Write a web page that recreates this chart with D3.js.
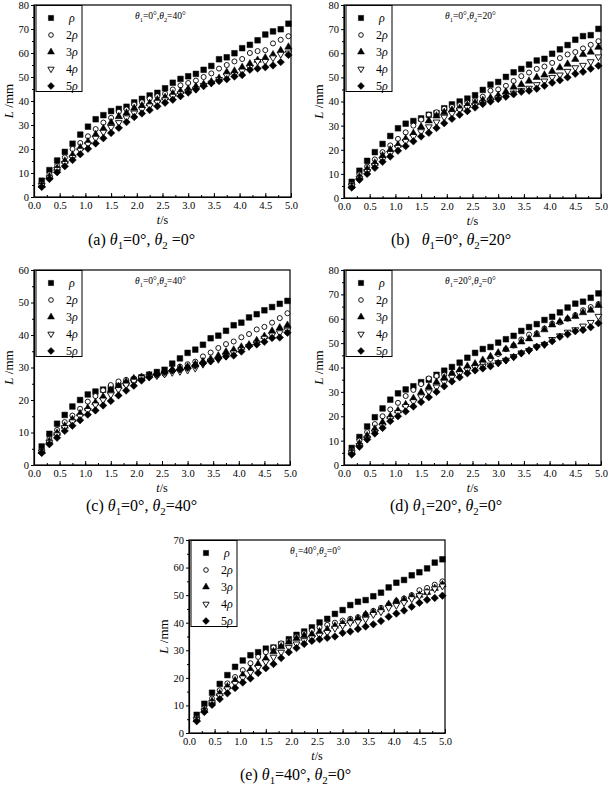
<!DOCTYPE html>
<html><head><meta charset="utf-8">
<script src="https://cdn.jsdelivr.net/npm/d3@7"></script>
<style>body{margin:0;background:#fff}svg{display:block;font-family:"Liberation Serif","Times New Roman",serif}</style>
</head><body><svg id="c" width="608" height="785"></svg>
<script>
// ---- data ----
const tValues = [0.15,0.30,0.45,0.60,0.75,0.90,1.05,1.20,1.35,1.50,1.65,1.80,1.95,2.10,2.25,2.40,2.55,2.70,2.85,3.00,3.15,3.30,3.45,3.60,3.75,3.90,4.05,4.20,4.35,4.50,4.65,4.80,4.95];
const seriesNames = ["ρ","2ρ","3ρ","4ρ","5ρ"];
const xTicks = [0,0.5,1,1.5,2,2.5,3,3.5,4,4.5,5];

const pa1 = [6.8,11.2,15.2,18.8,22.2,26,29.3,32.4,34.1,35.8,36.7,37.6,39.4,40.9,42.3,43.4,45.3,47.6,49.2,50.3,51.3,53,54.6,57.4,58.2,59.9,62,63.4,65.3,67.7,69,69.9,72.2];
const pa2 = [5.5,9.5,13,16.5,20,22.5,25.3,28.3,31,33,35.5,36.5,38.5,39.5,41,42,43,44.8,46.5,47.5,48.5,50,51.5,53.5,55,56.5,57.5,60,60.8,61.2,64,65.5,67];
const pa3 = [5,8.5,12,15,17.5,20.5,23,26,28.5,31,33.5,35,37,38,39,40.5,41.5,43,44,45,46,47,48,49.5,52,52.5,54,55.5,57,58,59.3,61,62.5];
const pa4 = [4.8,8,11.5,14,16.5,19.5,22,24.5,27,29,31,33,35,36.5,38,39.5,40.5,42,43,44,45,46.5,47.5,49,50.5,51,52.5,54,56.5,56.5,58,59.5,60];
const pa5 = [4.2,7.5,10.3,12.8,15.4,17.8,20.1,22.3,24.5,26.7,28.8,31.2,33.3,34.8,36.2,37.8,39.3,40.5,42,43.5,44.8,46.2,47.5,48.3,49.1,50.2,50.8,53,53.5,54.1,54.8,56.2,59.2];

const pb1 = [6.7,11.3,15.4,19,22.4,25.7,28.9,30.8,31.9,33,34.5,35.2,37.2,38.8,40,41.2,42.6,44.8,47,48.1,50.2,52.1,53.5,55.3,57,57.7,59.8,61.6,63.4,65.6,67.1,67.5,70.1];
const pb2 = [5.8,9.8,13,16,19,21.8,24.5,27.2,30,32.5,34.5,35.5,37,37.8,38.5,39.5,40.5,42,44.5,45,46.5,48.5,50.5,52,53.5,54.5,56,58,59.5,60.5,62,63.5,65];
const pb3 = [5.2,8.8,12,14.5,17.5,20,22,24.5,26.8,29.5,32,34,35.5,36.5,37.2,38.5,39.5,40.5,41.5,42.5,44,46,47,48.5,50,51,52.5,54,55.5,57.5,59.5,60.5,62.5];
const pb4 = [5,8.2,11,13.5,16,18.5,21,23.5,25.5,27.5,29.5,31.5,33.5,35,36.5,37.5,38.5,39.5,40.5,41.5,42.5,43.5,44.5,45.5,47,48.5,50,51,52.5,54,55,56.5,58.5];
const pb5 = [4.3,7.6,10,12.5,15,17.2,19.6,21.5,23.5,25.5,27,29,31,32.8,34.5,36,37.5,39,40,41,42,43,44,44.5,45.3,46.5,47.8,48.8,50,51.5,52.3,53.6,54.8];

const pc1 = [5.7,9.6,12.7,15.4,18,20,21.7,22.6,23.2,23.7,24.4,25.2,26.2,27,27.8,28.6,29.3,31.2,32.8,34.5,35.5,37,39,39.8,41.3,43,43.8,45.4,46.4,47.6,48.6,49.6,50.5];
const pc2 = [4.5,8,10.8,13.2,15.2,17.3,19.5,21.2,23,24.6,25.7,26.2,26.6,26.8,27.2,27.5,28,29,30.3,31,31.8,33.4,34.6,36,37.2,38,39.3,40.3,41.7,42.5,43.8,45.2,46.7];
const pc3 = [4.2,7.3,9.8,12,14,15.8,17.5,19.2,21,23,24.2,25.6,26.6,27,27.6,28.2,28.8,29.4,29.8,30.2,31,31.8,32.6,33.6,34.8,35.4,36.3,37,38.3,39.6,41.2,42.2,43];
const pc4 = [4,7,9.3,11.5,13.3,15,16.8,18.5,20,21.6,23.2,24.6,25.8,26.8,27.2,27.5,28,28.5,28.8,29.2,29.8,31,32,32.5,33.5,34.5,35.5,36.5,37.5,39,40,40.7,41.5];
const pc5 = [3.7,6.4,8.4,10.5,12.1,13.8,15.5,16.8,18.3,19.7,21.4,22.9,24.4,26,27,27.9,28.6,29.1,29.4,29.9,30.6,31.3,31.9,32.8,33.4,33.7,34.9,36.6,37.1,37.9,39.1,39.2,40.7];

const pd1 = [7,11.5,15.8,19.6,23.2,26.8,29.4,31,32.3,34,35,37,38.7,40.2,42,44,46,47.6,48.4,50.2,51.6,53,55,56.6,57.8,59.5,60.8,62.6,64.6,66.2,67,68.6,70.4];
const pd2 = [6,10,13.5,16.8,20,22.8,25.5,28.3,30.8,33.2,35.5,36.5,37,37.5,38.5,39.5,40.5,42,43.5,45.5,47.5,49,51.5,53.5,54,56,58,58.5,60,61.5,63.5,64.8,66];
const pd3 = [5.5,8.8,12,14.8,17.5,20,22.3,24.8,27.3,29.8,32,34,35.8,37.5,39,40.5,41.5,43,44.5,46,47.5,49,50.5,51.8,53.5,55.5,57.5,58.8,60,61,62.5,63.5,65.5];
const pd4 = [5,8,11,13.5,16,19,21.5,24,26,28,30,32,34,36,37.5,39,40,40.5,41,42,43,44.5,46,47,48.5,49.5,51.5,53,54.5,55.5,57,58.5,61];
const pd5 = [4.3,7.5,10.5,12.9,15.2,18,20,22,24,25.8,27.8,30,32.3,34.3,36,37.6,38.8,39.6,40.5,41.8,43,44.3,45.8,47.1,48.5,49.4,50.8,52.6,53.6,54.9,55.4,56.5,58.2];

const pe1 = [6.6,10.6,14.6,17.8,21,24,26.3,28.2,29.3,30.6,31,32.2,34,35.6,36.8,38.3,40.1,41.4,43.2,44.6,46.4,47.6,48.2,49.6,50.9,52.8,54.5,55.5,57.2,58.3,59.7,61.8,63];
const pe2 = [5.5,9,12.5,15.5,18,20.3,22.8,25.3,27.6,29.3,31,32.5,33.5,35,36.2,37.2,38.3,39.2,40,40.8,41.4,42,43,44.3,45.4,46.5,47.8,48.8,50,51.8,52.6,53.8,55];
const pe3 = [5,8.3,11.5,14.3,16.8,19,21,23,25,27,29.5,31.3,33,34.3,35.3,35.8,36.7,37.5,38.8,39.7,40.7,41.5,43,43.8,44.8,46.7,47.8,48.3,49.5,50,51,52.5,53.8];
const pe4 = [4.8,8,11,13.5,16,18,20,22,23.8,25.8,27.5,29.3,31,32.3,33.5,34.5,35.5,36.5,38,39,40,40.3,41.3,43,44,45.5,46.3,47.3,48.7,49.8,51.2,52.3,53.3];
const pe5 = [4.3,7.6,10.2,12.3,14.4,16.3,18.3,19.8,21.8,23.5,25,27.2,29.3,30.8,32.3,33.4,34,34.5,35,36.3,36.8,37.7,38.6,39.4,40.6,42.2,43.3,44.4,45.8,47.2,48.3,49,49.8];

// ---- layout ----
const panels = [
  {series:[pa1,pa2,pa3,pa4,pa5], yMax:80, L:34, R:291, T:5, B:197, note:["0","40"], cap:"(a)", capTh:["0","0"], capSp:true, capX:88, capY:245},
  {series:[pb1,pb2,pb3,pb4,pb5], yMax:80, L:344, R:601, T:5, B:198, note:["0","20"], cap:"(b)", capTh:["0","20"], capX:391, capY:245, gap:true},
  {series:[pc1,pc2,pc3,pc4,pc5], yMax:60, L:34, R:290, T:270, B:465, note:["0","40"], cap:"(c)", capTh:["0","40"], capX:86, capY:511},
  {series:[pd1,pd2,pd3,pd4,pd5], yMax:80, L:344, R:601, T:270, B:465, note:["20","0"], cap:"(d)", capTh:["20","0"], capX:390, capY:511},
  {series:[pe1,pe2,pe3,pe4,pe5], yMax:70, L:189, R:445, T:540, B:733, note:["40","0"], cap:"(e)", capTh:["40","0"], capX:240, capY:780}
];

const FONT = "'Liberation Serif','Times New Roman',Times,serif";
const svg = d3.select("#c");

const symTypes = [
  {type:d3.symbolSquare, size:32, fill:"#000", rot:0},
  {type:d3.symbolCircle, size:20, fill:"#fff", rot:0},
  {type:d3.symbolTriangle, size:24, fill:"#000", rot:0},
  {type:d3.symbolTriangle, size:20, fill:"#fff", rot:180},
  {type:d3.symbolSquare, size:28, fill:"#000", rot:45}
];

function rich(g, x, y, parts, size, anchor){
  const t = g.append("text").attr("x", x).attr("y", y).attr("font-size", size)
    .attr("font-family", FONT).attr("text-anchor", anchor || "start").attr("fill","#000");
  let shift = 0;
  parts.forEach(p=>{
    const ts = t.append("tspan").text(p.t);
    if(p.it) ts.attr("font-style","italic");
    let target = p.sub ? size*0.28 : 0;
    const dy = target - shift;
    if(dy !== 0) ts.attr("dy", dy);
    shift = target;
    if(p.sub) ts.attr("font-size", size*0.68);
  });
  return t;
}

panels.forEach(P=>{
  const g = svg.append("g");
  const x = d3.scaleLinear().domain([0,5]).range([P.L,P.R]);
  const y = d3.scaleLinear().domain([0,P.yMax]).range([P.B,P.T]);

  // frame
  g.append("rect").attr("x",P.L).attr("y",P.T).attr("width",P.R-P.L).attr("height",P.B-P.T)
    .attr("fill","none").attr("stroke","#000").attr("stroke-width",1.2);

  // x axis
  const minorX = d3.range(0,5.001,0.25);
  g.append("g").attr("transform",`translate(0,${P.B})`)
    .call(d3.axisBottom(x).tickValues(minorX).tickSize(-2).tickFormat(""))
    .call(s=>s.select(".domain").remove());
  const xa = g.append("g").attr("transform",`translate(0,${P.B})`)
    .call(d3.axisBottom(x).tickValues(xTicks).tickSizeInner(-4).tickSizeOuter(0).tickPadding(5).tickFormat(d3.format(".1f")));
  xa.select(".domain").attr("stroke-width",1.2);
  xa.selectAll("text").attr("font-size",10.5).attr("font-family",FONT).attr("dy","0.71em");

  // y axis
  const yMaj = d3.range(0,P.yMax+0.1,10);
  const yMin = d3.range(5,P.yMax,10);
  g.append("g").attr("transform",`translate(${P.L},0)`)
    .call(d3.axisLeft(y).tickValues(yMin).tickSize(2).tickFormat(""))
    .call(s=>s.select(".domain").remove());
  const ya = g.append("g").attr("transform",`translate(${P.L},0)`)
    .call(d3.axisLeft(y).tickValues(yMaj).tickSizeInner(3).tickSizeOuter(0).tickPadding(2).tickFormat(d3.format("d")));
  ya.select(".domain").attr("stroke-width",1.2);
  ya.selectAll("text").attr("font-size",10.5).attr("font-family",FONT);

  // axis titles
  const cy = (P.T+P.B)/2;
  const yl = g.append("text").attr("transform",`translate(${P.L-21},${cy}) rotate(-90)`)
    .attr("text-anchor","middle").attr("font-size",13).attr("font-family",FONT);
  yl.append("tspan").attr("font-style","italic").text("L");
  yl.append("tspan").text(" /mm");
  const xl = g.append("text").attr("x",(P.L+P.R)/2).attr("y",P.B+27).attr("text-anchor","middle")
    .attr("font-size",12).attr("font-family",FONT);
  xl.append("tspan").attr("font-style","italic").text("t");
  xl.append("tspan").text("/s");

  // data
  P.series.forEach((vals,si)=>{
    const st = symTypes[si];
    const sym = d3.symbol().type(st.type).size(st.size);
    g.append("g").selectAll("path").data(vals).join("path")
      .attr("d", sym)
      .attr("transform",(d,i)=>`translate(${x(tValues[i])},${y(d)}) rotate(${st.rot})`)
      .attr("fill", st.fill).attr("stroke","#000").attr("stroke-width", st.fill==="#fff"?0.9:0.5);
  });

  // legend
  const lg = g.append("g");
  lg.append("rect").attr("x",P.L+2).attr("y",P.T+0.5).attr("width",46).attr("height",86)
    .attr("fill","#fff").attr("stroke","#000").attr("stroke-width",1);
  seriesNames.forEach((nm,i)=>{
    const st = symTypes[i];
    const ly = P.T+13+i*17;
    lg.append("path").attr("d", d3.symbol().type(st.type).size(st.size*0.85))
      .attr("transform",`translate(${P.L+17},${ly}) rotate(${st.rot})`)
      .attr("fill",st.fill).attr("stroke","#000").attr("stroke-width",st.fill==="#fff"?0.9:0.5);
    const tx = lg.append("text").attr("x",P.L+(i===0?35:32)).attr("y",ly+4).attr("font-size",12).attr("font-family",FONT);
    const num = nm.replace("ρ","");
    if(num) tx.append("tspan").text(num);
    tx.append("tspan").attr("font-style","italic").text("ρ");
  });

  // annotation
  rich(g, P.L+101, P.T+14, [
    {t:"θ",it:true},{t:"1",sub:true},{t:"="+P.note[0]+"°,"},
    {t:"θ",it:true},{t:"2",sub:true},{t:"="+P.note[1]+"°"}
  ], 9.5);

  // caption
  rich(svg, P.capX, P.capY, [
    {t:P.cap+(P.gap?"\u00a0\u00a0 ":" ")},{t:"θ",it:true},{t:"1",sub:true},{t:"="+P.capTh[0]+"°, "},
    {t:"θ",it:true},{t:"2",sub:true},{t:(P.capSp?" =":"=")+P.capTh[1]+"°"}
  ], 16);
});
</script></body></html>
